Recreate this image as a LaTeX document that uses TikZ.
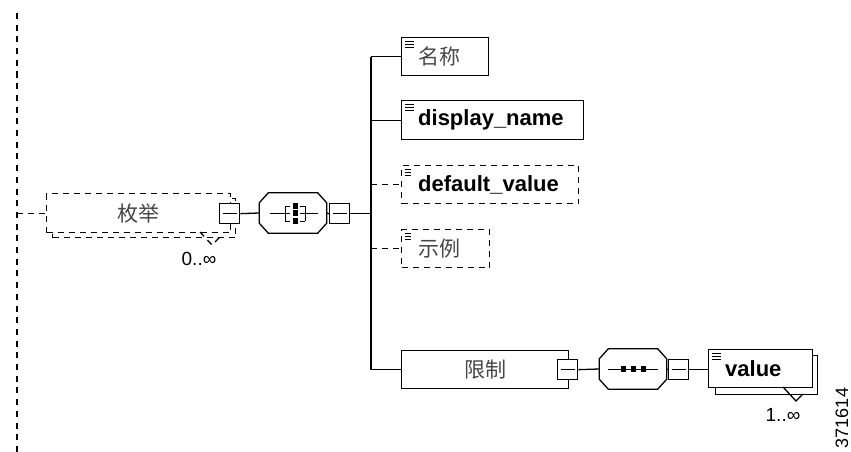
\documentclass[tikz,border=0pt]{standalone}
\usepackage{fontspec}
\setmainfont{Liberation Sans}
\newfontfamily\cjk{Noto Sans CJK SC}
\newcommand\octframe[1]{%
  \draw[ln, fill=white] ([xshift=9pt]#1.north west) -- ([xshift=-9pt]#1.north east)
    -- ([yshift=-10pt]#1.north east) -- ([yshift=10pt]#1.south east)
    -- ([xshift=-9pt]#1.south east) -- ([xshift=9pt]#1.south west)
    -- ([yshift=10pt]#1.south west) -- ([yshift=-10pt]#1.north west) -- cycle;}
\begin{document}
\begin{tikzpicture}[x=1pt,y=-1pt,
  ln/.style={line width=1.3pt},
  dsh/.style={dash pattern=on 6pt off 5pt},
  box/.style={draw, ln, fill=white, rectangle, inner sep=0pt, anchor=north west},
  elem/.style={box, path picture={
    \draw[line width=0.9pt]
      ([xshift=3pt,yshift=-4pt]path picture bounding box.north west) -- +(9pt,0pt)
      ([xshift=3pt,yshift=-7pt]path picture bounding box.north west) -- +(9pt,0pt)
      ([xshift=3pt,yshift=-10pt]path picture bounding box.north west) -- +(9pt,0pt);}},
  sq/.style={box, minimum width=20pt, minimum height=20pt, path picture={
    \draw[ln] ([xshift=3pt]path picture bounding box.west) -- ([xshift=-3pt]path picture bounding box.east);}},
  oct/.style={rectangle, inner sep=0pt, minimum width=67pt, minimum height=40pt},
  cjkt/.style={font=\cjk\fontsize{21}{24}\selectfont, text=black!72},
  bt/.style={font=\bfseries\fontsize{22}{26}\selectfont, text=black},
  etxt/.style={anchor=west, xshift=17pt, inner sep=0pt},
  smallt/.style={font=\fontsize{19}{22}\selectfont, inner sep=0pt}
]
\useasboundingbox (0,0) rectangle (851,452);

% left dashed trunk
\coordinate (ltop) at (17,13);
\coordinate (lbot) at (17,452);
\coordinate (tr) at (371,0);

% enumeration element (multiple, optional)
\node[box, dsh, minimum width=183pt, minimum height=39pt] (enumB) at (52,198) {};
\node[box, dsh, minimum width=184pt, minimum height=39pt, cjkt] (enumF) at (46,193) {枚举\hspace{5pt}};
\draw[ln, dsh] (200,232) -- (212,245) -- (220,237);
\node[smallt] (occ0) at (199,259) {0..∞};
\node[sq] (esq) at (219,203) {};

% choice compositor
\node[oct] (choice) at (293,213) {};
\octframe{choice}
\begin{scope}[shift={(choice.center)}]
  \draw[line width=1pt] (-23,0) -- (-8,0) (-8,-7) -- (-8,8)
    (-8,-7) -- (-3,-7) (-8,0) -- (-3,0) (-8,8) -- (-3,8)
    (12,-7) -- (12,8) (7,-7) -- (12,-7) (7,0) -- (12,0) (7,8) -- (12,8)
    (12,0) -- (25,0);
  \fill (-0.5,-10) rectangle (4.5,-4);
  \fill (-0.5,-3) rectangle (4.5,3);
  \fill (-0.5,5) rectangle (4.5,11);
\end{scope}
\node[sq] (csq) at (329,203) {};

% children
\node[elem, minimum width=87pt, minimum height=38pt,
  label={[etxt, cjkt]west:名称}] (nm) at (401,37) {};
\node[elem, minimum width=182pt, minimum height=39pt,
  label={[etxt, bt]west:display\_name}] (dn) at (401,100) {};
\node[elem, dsh, minimum width=177pt, minimum height=38pt,
  label={[etxt, bt]west:default\_value}] (dv) at (401,165) {};
\node[elem, dsh, minimum width=88pt, minimum height=38pt,
  label={[etxt, cjkt]west:示例}] (ex) at (401,229) {};
\node[box, minimum width=167pt, minimum height=38pt, cjkt] (lim) at (401,350) {限制\hspace{11pt}};
\node[sq] (lsq) at (557,359) {};

% sequence compositor
\node[oct] (seq) at (633,369) {};
\octframe{seq}
\begin{scope}[shift={(seq.center)}]
  \draw[line width=1pt] (-25,0) -- (25,0);
  \fill (-12,-2.8) rectangle (-7,2.8);
  \fill (-2,-2.8) rectangle (3,2.8);
  \fill (8,-2.8) rectangle (13,2.8);
\end{scope}
\node[sq] (ssq) at (668,359) {};

% value element (multiple)
\node[box, minimum width=102pt, minimum height=39pt] (valB) at (715,355) {};
\node[elem, minimum width=104pt, minimum height=38pt,
  label={[etxt, bt]west:value}] (valF) at (708,349) {};
\draw[ln] (783,387) -- (796,401) -- (803,394);
\node[smallt] (occ1) at (783,415) {1..∞};

% figure number
\node[font=\fontsize{18}{21}\selectfont, inner sep=0pt, rotate=90] (fig) at (842,418) {371614};

% connectors
\draw[line width=1.6pt, dash pattern=on 6pt off 5.7pt] (ltop) -- (lbot);
\draw[ln, dsh] (ltop |- enumF.west) -- (enumF.west);
\draw[ln] (esq.east) -- (choice.west);
\draw[ln] (choice.east) -- (csq.west);
\draw[ln] (csq.east) -- (tr |- csq.east);
\draw[ln] (tr |- nm.west) -- (tr |- lim.west);
\draw[ln] (tr |- nm.west) -- (nm.west);
\draw[ln] (tr |- dn.west) -- (dn.west);
\draw[ln, dsh] (tr |- dv.west) -- (dv.west);
\draw[ln, dsh] (tr |- ex.west) -- (ex.west);
\draw[ln] (tr |- lim.west) -- (lim.west);
\draw[ln] (lsq.east) -- (seq.west);
\draw[ln] (seq.east) -- (ssq.west);
\draw[ln] (ssq.east) -- (valF.west |- ssq.east);
\end{tikzpicture}
\end{document}
